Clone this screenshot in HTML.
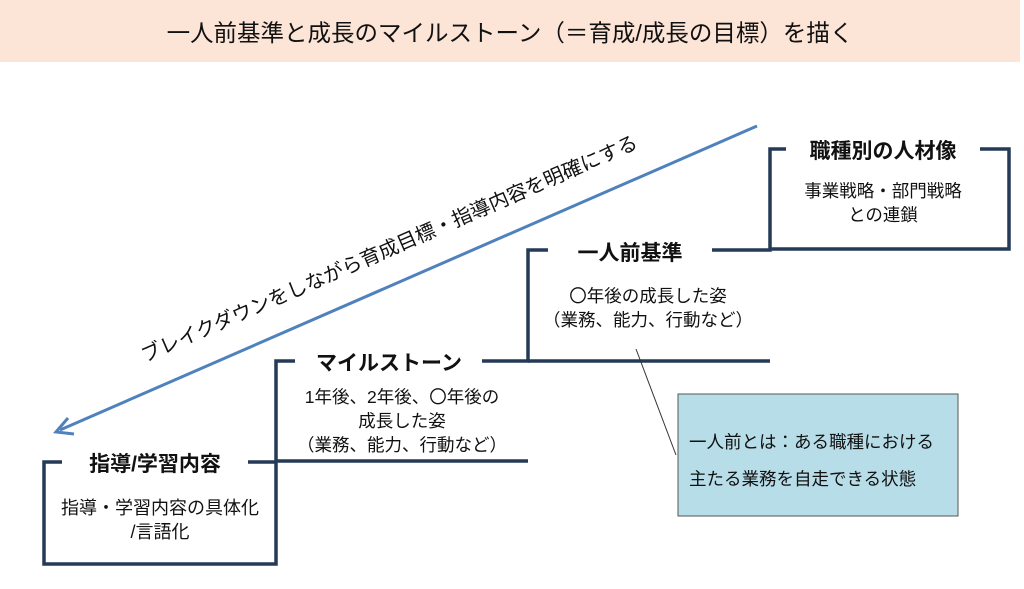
<!DOCTYPE html>
<html><head><meta charset="utf-8"><style>
body{margin:0;width:1024px;height:584px;background:#fff;overflow:hidden}
svg text{font-family:"Liberation Sans","Noto Sans CJK JP",sans-serif;fill:#111}
</style></head><body>
<svg width="1024" height="584" viewBox="0 0 1024 584" xmlns="http://www.w3.org/2000/svg">
<rect x="0" y="0" width="1020" height="62" fill="#fce4d6"/>
<text x="510" y="41" font-size="23.5" text-anchor="middle">一人前基準と成長のマイルストーン（＝育成/成長の目標）を描く</text>
<g fill="none" stroke="#243a56" stroke-width="3.5">
<polyline points="62,462 44,462 44,564 276,564 276,361 295,361"/>
<line x1="248" y1="462" x2="276" y2="462"/>
<polyline points="482,361 528,361 528,250 548,250"/>
<polyline points="712,250 770,250 770,149 786,149"/>
<polyline points="980,149 1009,149 1009,249 770,249"/>
<line x1="276" y1="461" x2="528" y2="461"/>
<line x1="528" y1="361" x2="770" y2="361"/>
</g>
<line x1="757" y1="126" x2="60" y2="430" stroke="#4f81bd" stroke-width="3"/>
<polyline points="68,418 56,432 74,434" fill="none" stroke="#4f81bd" stroke-width="3"/>
<text x="392" y="255" font-size="20" text-anchor="middle" transform="rotate(-23.5 392 255)">ブレイクダウンをしながら育成目標・指導内容を明確にする</text>
<text x="155" y="471" font-size="21" font-weight="bold" text-anchor="middle">指導/学習内容</text>
<text x="160" y="514" font-size="18" text-anchor="middle">指導・学習内容の具体化</text>
<text x="160" y="538" font-size="18" text-anchor="middle">/言語化</text>
<text x="389" y="370" font-size="21" font-weight="bold" text-anchor="middle">マイルストーン</text>
<text x="402" y="403" font-size="17.5" text-anchor="middle">1年後、2年後、〇年後の</text>
<text x="402" y="427" font-size="17.5" text-anchor="middle">成長した姿</text>
<text x="402" y="451" font-size="17.5" text-anchor="middle">（業務、能力、行動など）</text>
<text x="630" y="260" font-size="21" font-weight="bold" text-anchor="middle">一人前基準</text>
<text x="648" y="302" font-size="17.5" text-anchor="middle">〇年後の成長した姿</text>
<text x="648" y="326" font-size="17.5" text-anchor="middle">（業務、能力、行動など）</text>
<text x="883" y="158" font-size="21" font-weight="bold" text-anchor="middle">職種別の人材像</text>
<text x="883" y="197" font-size="17.5" text-anchor="middle">事業戦略・部門戦略</text>
<text x="883" y="221" font-size="17.5" text-anchor="middle">との連鎖</text>
<line x1="636" y1="349" x2="676" y2="455" stroke="#333" stroke-width="1"/>
<rect x="678" y="394" width="280" height="122" fill="#b7dde8" stroke="#555" stroke-width="1"/>
<text x="689" y="448" font-size="17.5">一人前とは：ある職種における</text>
<text x="689" y="485" font-size="17.5">主たる業務を自走できる状態</text>
</svg>
</body></html>
